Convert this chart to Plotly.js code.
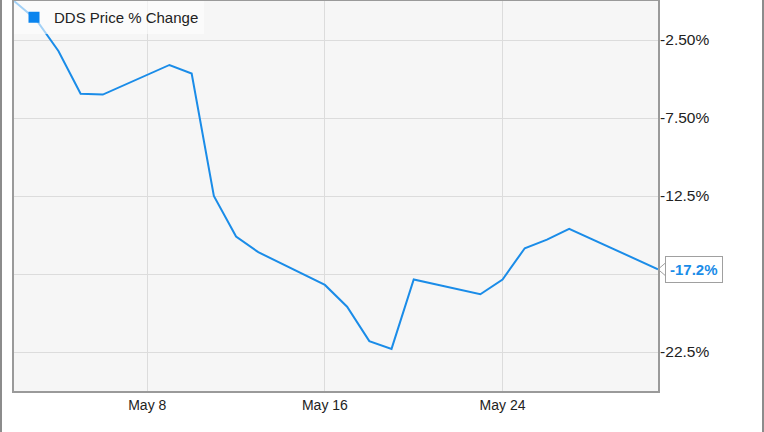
<!DOCTYPE html>
<html>
<head>
<meta charset="utf-8">
<script src="https://cdn.plot.ly/plotly-3.0.1.min.js"></script>
<style>
  html, body { margin: 0; padding: 0; background: #ffffff; }
  #wrap { position: relative; width: 764px; height: 432px; overflow: hidden; }
  #chart { position: absolute; left: 0; top: 0; width: 764px; height: 432px; }
  .frame { position: absolute; top: 0; width: 2px; height: 432px; background: #8c8c8c; }
</style>
</head>
<body>
<div id="wrap">
  <div id="chart"></div>
  <div class="frame" style="left:0px;"></div>
  <div class="frame" style="left:762px;"></div>
</div>
<script>
// ---- data ----
const seriesName = "DDS Price % Change";
const dates = ["2016-05-02","2016-05-03","2016-05-04","2016-05-05","2016-05-06",
               "2016-05-09","2016-05-10","2016-05-11","2016-05-12","2016-05-13",
               "2016-05-16","2016-05-17","2016-05-18","2016-05-19","2016-05-20",
               "2016-05-23","2016-05-24","2016-05-25","2016-05-26","2016-05-27",
               "2016-05-31"];
const pctChange = [0, -1.2, -3.2, -5.95, -6.0,
                   -4.1, -4.65, -12.5, -15.1, -16.1,
                   -18.2, -19.6, -21.8, -22.3, -17.85,
                   -18.8, -17.85, -15.85, -15.3, -14.6,
                   -17.2];
const xTickVals = ["2016-05-08","2016-05-16","2016-05-24"];
const xTickText = ["May 8","May 16","May 24"];
const yTickVals = [-2.5, -7.5, -12.5, -17.5, -22.5];
const yTickText = ["-2.50%", "-7.50%", "-12.5%", "", "-22.5%"];

const lineColor = "#1a8ce8";
const lastVal = pctChange[pctChange.length - 1];

const traces = [
  {
    type: "scatter", mode: "lines",
    x: dates, y: pctChange,
    line: { color: lineColor, width: 2 },
    showlegend: false, hoverinfo: "skip"
  },
  {
    type: "scatter", mode: "markers",
    x: [null], y: [null],
    name: seriesName,
    marker: { symbol: "square", size: 11, color: "#0a84ee" },
    showlegend: true
  }
];

const layout = {
  width: 764, height: 432,
  margin: { l: 14, r: 106, t: 1, b: 41 },
  paper_bgcolor: "rgba(0,0,0,0)",
  plot_bgcolor: "#f6f6f6",
  font: { family: "Arial, 'Liberation Sans', sans-serif", size: 14, color: "#222" },
  showlegend: true,
  legend: {
    x: 0, y: 1, xanchor: "left", yanchor: "top",
    bgcolor: "rgba(255,255,255,0.6)",
    borderwidth: 0,
    font: { size: 15, color: "#222" },
    itemwidth: 30
  },
  xaxis: {
    type: "date",
    range: ["2016-05-02", "2016-05-31"],
    tickmode: "array", tickvals: xTickVals, ticktext: xTickText,
    showgrid: true, gridcolor: "#dcdcdc", gridwidth: 1,
    showline: true, mirror: true, linecolor: "#9a9a9a", linewidth: 2,
    ticks: "", zeroline: false,
    tickfont: { size: 14, color: "#222" }
  },
  yaxis: {
    side: "right",
    range: [-25, 0],
    tickmode: "array", tickvals: yTickVals, ticktext: yTickText,
    showgrid: true, gridcolor: "#dcdcdc", gridwidth: 1,
    showline: true, mirror: true, linecolor: "#9a9a9a", linewidth: 2,
    ticks: "", zeroline: false,
    ticklabelstandoff: -3,
    tickfont: { size: 15.5, color: "#222" }
  },
  annotations: [
    {
      xref: "paper", yref: "y",
      x: 1, y: lastVal,
      xanchor: "left", yanchor: "middle",
      xshift: 7,
      text: "<b>" + lastVal.toFixed(1) + "%</b>",
      showarrow: false,
      font: { size: 15, color: "#1a8ce8" },
      bgcolor: "#ffffff",
      bordercolor: "#a0a0a0", borderwidth: 1, borderpad: 4
    }
  ],
  shapes: [
    {
      type: "path", xref: "paper", yref: "y",
      xsizemode: "pixel", ysizemode: "pixel",
      xanchor: 1, yanchor: lastVal,
      path: "M 7 6 L 0 0 L 7 -6",
      line: { color: "#a0a0a0", width: 1 },
      layer: "above"
    }
  ]
};

Plotly.newPlot("chart", traces, layout, { staticPlot: true, displayModeBar: false });
</script>
</body>
</html>
